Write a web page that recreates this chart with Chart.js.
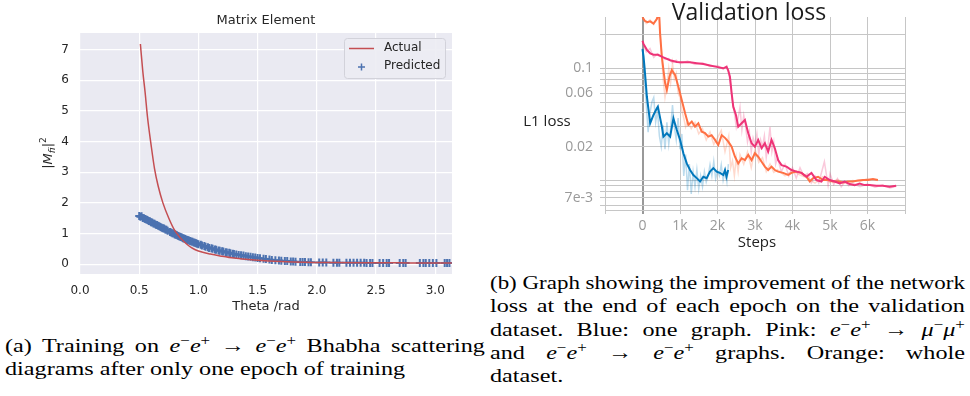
<!DOCTYPE html>
<html>
<head>
<meta charset="utf-8">
<script src="https://cdn.jsdelivr.net/npm/chart.js"></script>
<style>
  html, body { margin: 0; padding: 0; background: #fff; }
  body { width: 970px; height: 396px; position: relative; overflow: hidden; }
  canvas { position: absolute; }
  #chartA { left: 0; top: 0; }
  #chartB { left: 490px; top: 0; }
  /* the page image is stretched sideways, so the caption text is widened too */
  .cap { position: absolute; font-family: "Liberation Serif", "Times New Roman", serif; font-size: 19.5px;
         line-height: 23.3px; color: #000; transform-origin: 0 0; transform: scaleX(1.24); }
  .cap .ln { white-space: nowrap; }
  .cap i { font-style: italic; }
  .cap sup { font-size: 70%; line-height: 0; vertical-align: 0.5em; }
</style>
</head>
<body>
<canvas id="chartA" width="485" height="320"></canvas>
<canvas id="chartB" width="480" height="262"></canvas>

<div class="cap" id="capA" style="left:5px; top:334px; width:387px;">
  <div class="ln j"><span>(a) Training on <i>e</i><sup>−</sup><i>e</i><sup>+</sup> → <i>e</i><sup>−</sup><i>e</i><sup>+</sup> Bhabha scattering</span></div>
  <div class="ln"><span>diagrams after only one epoch of training</span></div>
</div>
<div class="cap" id="capB" style="left:490px; top:271px; width:383px;">
  <div class="ln j"><span>(b) Graph showing the improvement of the network</span></div>
  <div class="ln j"><span>loss at the end of each epoch on the validation</span></div>
  <div class="ln j"><span>dataset. Blue: one graph. Pink: <i>e</i><sup>−</sup><i>e</i><sup>+</sup> → <i>μ</i><sup>−</sup><i>μ</i><sup>+</sup></span></div>
  <div class="ln j"><span>and <i>e</i><sup>−</sup><i>e</i><sup>+</sup> → <i>e</i><sup>−</sup><i>e</i><sup>+</sup> graphs. Orange: whole</span></div>
  <div class="ln"><span>dataset.</span></div>
</div>

<script>
// ---- (a) matrix element data ----
const thetaActual = [0.51, 0.53, 0.55, 0.57, 0.60, 0.63, 0.66, 0.70, 0.75, 0.80, 0.85, 0.90, 0.95, 1.00,
  1.10, 1.20, 1.30, 1.40, 1.50, 1.70, 1.90, 2.10, 2.40, 2.70, 3.00, 3.14];
const mActual = [7.18, 6.3, 5.6, 4.8, 3.9, 3.1, 2.55, 2.0, 1.5, 1.1, 0.85, 0.66, 0.52, 0.43,
  0.33, 0.26, 0.20, 0.16, 0.13, 0.09, 0.065, 0.055, 0.047, 0.043, 0.04, 0.04];

const thetaPred = [0.50, 0.51, 0.52, 0.53, 0.54, 0.55, 0.56, 0.57, 0.58, 0.59, 0.60, 0.61, 0.62, 0.63, 0.64,
  0.65, 0.66, 0.67, 0.68, 0.69, 0.70, 0.71, 0.72, 0.73, 0.74, 0.76, 0.77, 0.78, 0.79, 0.80, 0.81, 0.82, 0.83,
  0.84, 0.85, 0.86, 0.87, 0.88, 0.89, 0.90, 0.91, 0.92, 0.93, 0.94, 0.95, 0.96, 0.97, 0.98, 0.99, 1.00, 1.02,
  1.03, 1.05, 1.06, 1.08, 1.09, 1.11, 1.12, 1.14, 1.15, 1.17, 1.18, 1.20, 1.21, 1.23, 1.24, 1.26, 1.27, 1.29,
  1.30, 1.32, 1.34, 1.36, 1.38, 1.40, 1.42, 1.44, 1.46, 1.48, 1.50, 1.52, 1.55, 1.57, 1.60, 1.62, 1.65, 1.68,
  1.70, 1.73, 1.75, 1.78, 1.80, 1.82, 1.86, 1.88, 1.90, 1.93, 1.95, 2.02, 2.05, 2.08, 2.14, 2.17, 2.19, 2.25,
  2.28, 2.31, 2.34, 2.37, 2.40, 2.42, 2.45, 2.47, 2.53, 2.56, 2.59, 2.61, 2.70, 2.73, 2.75, 2.87, 2.90, 2.92,
  2.95, 2.98, 3.01, 3.08, 3.10, 3.12];
const mPred = [1.57, 1.55, 1.56, 1.51, 1.50, 1.47, 1.46, 1.44, 1.41, 1.40, 1.37, 1.36, 1.33, 1.32, 1.29,
  1.28, 1.25, 1.24, 1.21, 1.19, 1.17, 1.16, 1.13, 1.12, 1.09, 1.05, 1.03, 1.01, 1.00, 0.97, 0.96, 0.94, 0.92,
  0.90, 0.89, 0.87, 0.85, 0.84, 0.82, 0.80, 0.79, 0.77, 0.76, 0.74, 0.73, 0.71, 0.70, 0.68, 0.67, 0.65, 0.63,
  0.61, 0.59, 0.57, 0.55, 0.53, 0.52, 0.50, 0.48, 0.47, 0.45, 0.44, 0.42, 0.41, 0.39, 0.38, 0.37, 0.36, 0.34,
  0.33, 0.32, 0.30, 0.29, 0.28, 0.26, 0.25, 0.24, 0.23, 0.22, 0.20, 0.19, 0.18, 0.17, 0.15, 0.14, 0.13, 0.12,
  0.11, 0.10, 0.10, 0.09, 0.085, 0.08, 0.075, 0.07, 0.07, 0.065, 0.06, 0.055, 0.055, 0.055, 0.05, 0.05, 0.05, 0.05,
  0.045, 0.045, 0.045, 0.045, 0.045, 0.04, 0.04, 0.04, 0.04, 0.04, 0.04, 0.04, 0.04, 0.035, 0.035, 0.035, 0.035, 0.035,
  0.035, 0.035, 0.035, 0.035, 0.035, 0.035];
const yTicksA = [0, 1, 2, 3, 4, 5, 6, 7];

// ---- (b) validation loss data ----
const blueSteps = [0, 27, 53, 117, 205, 293, 383, 410, 516, 558, 649, 737, 824, 915, 1003, 1090, 1180, 1269,
  1356, 1447, 1535, 1622, 1710, 1800, 1890, 1977, 2065, 2154, 2200, 2240, 2285];
const blueLoss = [0.148, 0.128, 0.103, 0.0558, 0.0324, 0.0384, 0.044, 0.0455, 0.0302, 0.0246, 0.0264, 0.0246,
  0.0358, 0.0282, 0.023, 0.0175, 0.0142, 0.0124, 0.0112, 0.0105, 0.0098, 0.0108, 0.0105, 0.012, 0.0129, 0.012,
  0.0117, 0.0112, 0.0124, 0.0108, 0.0124];

const pinkSteps = [0, 27, 117, 205, 293, 410, 558, 737, 915, 1090, 1269, 1447, 1622, 1800, 1977, 2154, 2240,
  2285, 2332, 2377, 2420, 2492, 2553, 2643, 2731, 2820, 2909, 2997, 3085, 3176, 3263, 3351, 3441, 3529, 3617,
  3707, 3840, 3973, 4106, 4238, 4372, 4505, 4638, 4771, 4860, 4992, 5125, 5258, 5391, 5524, 5657, 5790, 5923,
  6056, 6233, 6410, 6587, 6765];
const pinkLoss = [0.176, 0.165, 0.146, 0.136, 0.132, 0.132, 0.125, 0.118, 0.114, 0.113, 0.113, 0.111, 0.109,
  0.106, 0.103, 0.100, 0.103, 0.096, 0.084, 0.060, 0.0455, 0.0384, 0.0302, 0.0324, 0.0346, 0.0264, 0.0215, 0.0200,
  0.023, 0.0194, 0.0215, 0.0181, 0.023, 0.0194, 0.0152, 0.0137, 0.0133, 0.0124, 0.012, 0.0117, 0.0108, 0.0117,
  0.0101, 0.0098, 0.0108, 0.0101, 0.0098, 0.0094, 0.0098, 0.0093, 0.0091, 0.0094, 0.0091, 0.0091, 0.0090, 0.0090,
  0.0088, 0.0090];

const orangeSteps = [0, 60, 130, 205, 293, 383, 440, 470, 516, 558, 604, 649, 718, 781, 870, 957, 1048, 1136,
  1223, 1314, 1401, 1489, 1580, 1668, 1755, 1843, 1934, 2021, 2111, 2200, 2287, 2377, 2465, 2553, 2643, 2731,
  2820, 2909, 2997, 3085, 3176, 3263, 3351, 3441, 3529, 3617, 3750, 3884, 3973, 4106, 4238, 4372, 4460, 4550,
  4682, 4815, 4948, 5080, 5213, 5346, 5480, 5612, 5745, 5878, 6012, 6145, 6278];
const orangeLoss = [0.285, 0.265, 0.258, 0.262, 0.25, 0.275, 0.32, 0.2, 0.127, 0.0966, 0.0735, 0.064, 0.084,
  0.0966, 0.087, 0.0686, 0.052, 0.0397, 0.0313, 0.0335, 0.0302, 0.0324, 0.0272, 0.0264, 0.0246, 0.0253, 0.023,
  0.0207, 0.0254, 0.024, 0.0222, 0.02, 0.0163, 0.0142, 0.0158, 0.0152, 0.0169, 0.0152, 0.0175, 0.0163, 0.0147,
  0.0133, 0.0124, 0.0133, 0.0124, 0.012, 0.0117, 0.0112, 0.0117, 0.012, 0.0117, 0.0108, 0.0098, 0.0105, 0.0108,
  0.0101, 0.0101, 0.0098, 0.0098, 0.0096, 0.0098, 0.0098, 0.01, 0.0101, 0.0101, 0.0103, 0.0101];

// raw (unsmoothed) runs, drawn faint
const blueRawSteps = [0, 50, 100, 150, 200, 250, 300, 350, 400, 450, 500, 550, 600, 650, 700, 750, 800, 850,
  900, 950, 1000, 1050, 1100, 1150, 1200, 1250, 1300, 1350, 1400, 1450, 1500, 1550, 1600, 1650, 1700, 1750, 1800,
  1850, 1900, 1950, 2000, 2050, 2100, 2150, 2200, 2250, 2290];
const blueRawLoss = [0.15, 0.085, 0.048, 0.027, 0.04, 0.05, 0.055, 0.033, 0.042, 0.025, 0.02, 0.031, 0.019,
  0.033, 0.021, 0.029, 0.047, 0.03, 0.023, 0.036, 0.019, 0.026, 0.011, 0.017, 0.0082, 0.014, 0.0076, 0.012, 0.0088,
  0.0125, 0.0084, 0.011, 0.0088, 0.012, 0.0097, 0.011, 0.0138, 0.011, 0.0148, 0.0104, 0.0122, 0.011, 0.0138, 0.01,
  0.012, 0.0097, 0.014];
const pinkRawSteps = [0, 100, 200, 300, 400, 500, 600, 700, 800, 900, 1000, 1200, 1400, 1600, 1800, 2000, 2150,
  2250, 2300, 2350, 2400, 2450, 2500, 2550, 2600, 2650, 2700, 2750, 2800, 2850, 2900, 2950, 3000, 3050, 3100,
  3150, 3200, 3250, 3300, 3350, 3400, 3450, 3500, 3550, 3600, 3700, 3800, 3900, 4000, 4100, 4200, 4300, 4400,
  4500, 4600, 4700, 4850, 4950, 5000, 5100, 5200, 5300, 5400, 5500, 5600, 5800, 6000, 6200, 6400, 6600, 6765];
const pinkRawLoss = [0.17, 0.14, 0.15, 0.125, 0.135, 0.128, 0.12, 0.122, 0.112, 0.118, 0.11, 0.116, 0.108,
  0.112, 0.104, 0.106, 0.098, 0.105, 0.09, 0.07, 0.05, 0.04, 0.03, 0.036, 0.045, 0.028, 0.038, 0.03, 0.022,
  0.027, 0.018, 0.024, 0.021, 0.026, 0.017, 0.023, 0.02, 0.025, 0.016, 0.021, 0.03, 0.018, 0.022, 0.014, 0.016,
  0.012, 0.014, 0.011, 0.013, 0.0105, 0.013, 0.011, 0.0115, 0.0095, 0.011, 0.0095, 0.0147, 0.009, 0.0115, 0.0092,
  0.0104, 0.0088, 0.0098, 0.009, 0.0095, 0.0088, 0.0093, 0.0087, 0.0091, 0.0086, 0.0089];
const orangeRawSteps = [0, 100, 200, 300, 400, 450, 500, 550, 600, 650, 700, 750, 800, 850, 900, 950, 1000,
  1050, 1100, 1150, 1200, 1300, 1400, 1500, 1600, 1700, 1800, 1900, 2000, 2100, 2200, 2300, 2350, 2400, 2450,
  2500, 2550, 2600, 2700, 2800, 2900, 3000, 3100, 3200, 3300, 3400, 3500, 3600, 3800, 4000, 4200, 4400, 4600,
  4800, 5000, 5200, 5400, 5600, 5800, 6000, 6278];
const orangeRawLoss = [0.28, 0.25, 0.27, 0.245, 0.29, 0.3, 0.15, 0.08, 0.055, 0.07, 0.1, 0.075, 0.11, 0.08,
  0.09, 0.06, 0.055, 0.042, 0.036, 0.03, 0.034, 0.029, 0.033, 0.026, 0.029, 0.023, 0.027, 0.021, 0.024, 0.028,
  0.018, 0.025, 0.013, 0.015, 0.011, 0.016, 0.012, 0.017, 0.014, 0.018, 0.013, 0.019, 0.0145, 0.016, 0.012, 0.014,
  0.0118, 0.0125, 0.011, 0.0122, 0.0112, 0.0105, 0.0095, 0.0108, 0.0096, 0.0102, 0.0095, 0.01, 0.0098, 0.0104, 0.01];

const yGridB = [0.006, 0.007, 0.008, 0.009, 0.01, 0.02, 0.03, 0.04, 0.05, 0.06, 0.07, 0.08, 0.09, 0.1, 0.2];
const yLabelValsB = [0.1, 0.06, 0.02, 0.007];
const yLabelTextB = ['0.1', '0.06', '0.02', '7e-3'];

const pts = (xs, ys) => xs.map((x, i) => ({ x: x, y: ys[i] }));

// ---------- chart (a) ----------
const SNS_RED = '#C44E52';
const SNS_BLUE = '#4C72B0';
const DK = '#262626';
const FA = '"DejaVu Sans", sans-serif';

const decoA = {
  id: 'decoA',
  beforeDraw(chart) {
    const { ctx, chartArea: a } = chart;
    ctx.save();
    ctx.fillStyle = '#EAEAF2';
    ctx.fillRect(a.left, a.top, a.right - a.left, a.bottom - a.top);
    ctx.restore();
  },
  afterDraw(chart) {
    const { ctx, chartArea: a } = chart;
    const cx = (a.left + a.right) / 2;
    ctx.save();
    ctx.fillStyle = DK;
    ctx.textAlign = 'center';
    ctx.textBaseline = 'middle';
    ctx.font = '13px ' + FA;
    ctx.fillText('Matrix Element', cx, 21);
    ctx.fillText('Theta /rad', cx, 307);

    // y label |M_fi|^2
    ctx.translate(47, 153);
    ctx.rotate(-Math.PI / 2);
    const parts = [
      { t: '|', f: '13px ' + FA, dy: 0 },
      { t: 'M', f: 'italic 13px ' + FA, dy: 0 },
      { t: 'fi', f: 'italic 9px ' + FA, dy: 3 },
      { t: '|', f: '13px ' + FA, dy: 0 },
      { t: '2', f: '9px ' + FA, dy: -6 }
    ];
    let w = 0;
    parts.forEach(p => { ctx.font = p.f; p.w = ctx.measureText(p.t).width; w += p.w; });
    let x = -w / 2;
    ctx.textAlign = 'left';
    ctx.textBaseline = 'alphabetic';
    parts.forEach(p => { ctx.font = p.f; ctx.fillText(p.t, x, 5 + p.dy); x += p.w; });
    ctx.restore();

    // legend box
    ctx.save();
    ctx.fillStyle = 'rgba(236,236,243,0.9)';
    ctx.strokeStyle = '#d2d2da';
    ctx.lineWidth = 1;
    ctx.beginPath();
    ctx.roundRect(344.5, 38.5, 101, 40, 3);
    ctx.fill();
    ctx.stroke();
    ctx.strokeStyle = SNS_RED;
    ctx.lineWidth = 1.5;
    ctx.beginPath();
    ctx.moveTo(349, 48.5);
    ctx.lineTo(374, 48.5);
    ctx.stroke();
    ctx.strokeStyle = SNS_BLUE;
    ctx.beginPath();
    ctx.moveTo(358, 67); ctx.lineTo(365, 67);
    ctx.moveTo(361.5, 63.5); ctx.lineTo(361.5, 70.5);
    ctx.stroke();
    ctx.fillStyle = DK;
    ctx.font = '12px ' + FA;
    ctx.textAlign = 'left';
    ctx.textBaseline = 'middle';
    ctx.fillText('Actual', 384, 48);
    ctx.fillText('Predicted', 384, 66);
    ctx.restore();
  }
};

new Chart(document.getElementById('chartA'), {
  type: 'scatter',
  data: {
    datasets: [
      {
        label: 'Actual',
        data: pts(thetaActual, mActual),
        showLine: true,
        borderColor: SNS_RED,
        borderWidth: 1.5,
        pointRadius: 0,
        cubicInterpolationMode: 'monotone'
      },
      {
        label: 'Predicted',
        data: pts(thetaPred, mPred),
        showLine: false,
        pointStyle: 'cross',
        pointRadius: 4,
        borderWidth: 2,
        borderColor: SNS_BLUE,
        backgroundColor: SNS_BLUE
      }
    ]
  },
  options: {
    responsive: false,
    animation: false,
    devicePixelRatio: 1,
    layout: { padding: { left: 40, right: 33, top: 33, bottom: 0 } },
    plugins: { legend: { display: false }, tooltip: { enabled: false } },
    scales: {
      x: {
        type: 'linear',
        min: 0,
        max: Math.PI,
        afterFit: s => { s.height = 46; },
        grid: { color: '#ffffff', lineWidth: 1.2, drawTicks: false },
        border: { display: false },
        ticks: {
          stepSize: 0.5, includeBounds: false, padding: 10, color: DK,
          font: { family: FA, size: 12 },
          callback: v => Number(v).toFixed(1)
        }
      },
      y: {
        type: 'linear',
        min: -0.32,
        max: 7.54,
        afterFit: s => { s.width = 40; },
        afterBuildTicks: s => { s.ticks = yTicksA.map(v => ({ value: v })); },
        grid: { color: '#ffffff', lineWidth: 1.2, drawTicks: false },
        border: { display: false },
        ticks: { padding: 11, color: DK, font: { family: FA, size: 12 }, callback: v => String(v) }
      }
    }
  },
  plugins: [decoA]
});

// ---------- chart (b) ----------
const TB_BLUE = '#0077bb';
const TB_ORANGE = '#ff7043';
const TB_PINK = '#ee3377';
const FB = '"Open Sans", sans-serif';
const GRID_B = '#c6c6c6';

const decoB = {
  id: 'decoB',
  afterDraw(chart) {
    const { ctx } = chart;
    ctx.save();
    ctx.fillStyle = '#1a1a1a';
    ctx.textAlign = 'center';
    ctx.textBaseline = 'alphabetic';
    ctx.font = '23px ' + FB;
    ctx.fillText('Validation loss', 259, 20);
    ctx.fillStyle = '#222';
    ctx.textBaseline = 'middle';
    ctx.font = '15px ' + FB;
    ctx.fillText('L1 loss', 57, 122);
    ctx.fillText('Steps', 267, 243);
    ctx.restore();
  }
};

const faint = (c) => c + '44';

new Chart(document.getElementById('chartB'), {
  type: 'scatter',
  data: {
    datasets: [
      { data: pts(blueRawSteps, blueRawLoss), showLine: true, borderColor: faint(TB_BLUE), borderWidth: 1.5, pointRadius: 0 },
      { data: pts(orangeRawSteps, orangeRawLoss), showLine: true, borderColor: faint(TB_ORANGE), borderWidth: 1.5, pointRadius: 0 },
      { data: pts(pinkRawSteps, pinkRawLoss), showLine: true, borderColor: faint(TB_PINK), borderWidth: 1.5, pointRadius: 0 },
      { data: pts(orangeSteps, orangeLoss), showLine: true, borderColor: TB_ORANGE, borderWidth: 2, pointRadius: 0 },
      { data: pts(pinkSteps, pinkLoss), showLine: true, borderColor: TB_PINK, borderWidth: 2, pointRadius: 0 },
      { data: pts(blueSteps, blueLoss), showLine: true, borderColor: TB_BLUE, borderWidth: 2, pointRadius: 0 }
    ].reverse()
  },
  options: {
    responsive: false,
    animation: false,
    devicePixelRatio: 1,
    layout: { padding: { left: 0, right: 65, top: 17, bottom: 0 } },
    plugins: { legend: { display: false }, tooltip: { enabled: false } },
    scales: {
      x: {
        type: 'linear',
        min: -1000,
        max: 7000,
        afterFit: s => { s.height = 52; },
        grid: {
          color: c => (c.tick && c.tick.value === 0) ? '#999999' : GRID_B,
          lineWidth: c => (c.tick && c.tick.value === 0) ? 2 : 1,
          tickLength: 4
        },
        border: { display: true, color: GRID_B },
        ticks: {
          stepSize: 1000, padding: 4, color: '#999', font: { family: FB, size: 14 },
          callback: v => v === 0 ? '0' : (v > 0 && v < 7000 ? (v / 1000) + 'k' : '')
        }
      },
      y: {
        type: 'logarithmic',
        min: 0.00546,
        max: 0.2865,
        bounds: 'data',
        afterFit: s => { s.width = 115; },
        afterBuildTicks: s => { s.ticks = yGridB.map(v => ({ value: v })); },
        grid: { color: GRID_B, lineWidth: 1, tickLength: 5 },
        border: { display: false },
        ticks: {
          autoSkip: false, padding: 7, color: '#999', font: { family: FB, size: 14 },
          callback: v => {
            const i = yLabelValsB.findIndex(t => Math.abs(t - v) < 1e-9);
            return i >= 0 ? yLabelTextB[i] : '';
          }
        }
      }
    }
  },
  plugins: [decoB]
});

// captions: justified lines either spread their spaces or, if too long, get squeezed to the column width
document.querySelectorAll('.cap .ln.j').forEach(div => {
  const span = div.firstElementChild;
  const target = div.parentElement.getBoundingClientRect().width;
  const w = span.getBoundingClientRect().width;
  if (w > target) {
    span.style.display = 'inline-block';
    span.style.transformOrigin = '0 0';
    span.style.transform = 'scaleX(' + (target / w) + ')';
  } else {
    div.style.whiteSpace = 'normal';
    div.style.textAlign = 'justify';
    div.style.textAlignLast = 'justify';
  }
});
</script>
</body>
</html>
